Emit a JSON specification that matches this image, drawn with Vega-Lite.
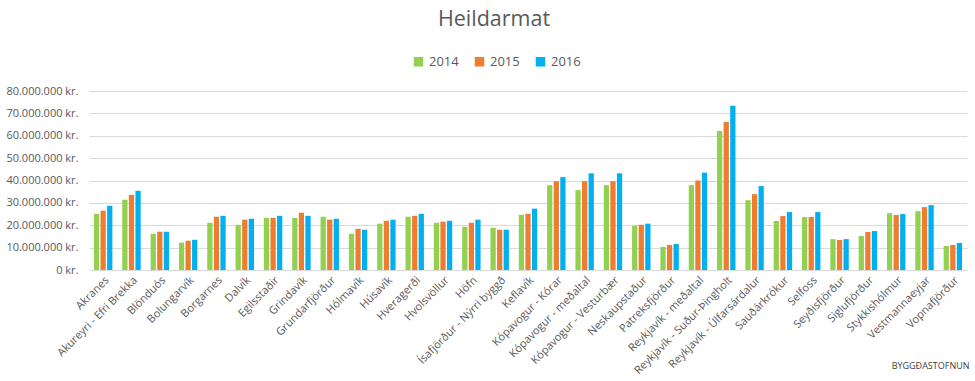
{
  "$schema": "https://vega.github.io/schema/vega-lite/v6.json",
  "width": 878,
  "height": 179,
  "autosize": "none",
  "padding": {"left": 89, "top": 91, "right": 8, "bottom": 111},
  "background": "white",
  "title": {"text": "Heildarmat", "fontSize": 21.5, "font": "Open Sans", "fontWeight": "normal", "color": "#595959", "anchor": "middle", "frame": "group", "dx": -34, "offset": 25},
  "config": {
    "locale": {"number": {"decimal": ",", "thousands": ".", "grouping": [3], "currency": ["", " kr."]}},
    "view": {"stroke": null},
    "font": "Open Sans"
  },
  "data": {"values": [
    {"s": "Akranes", "ar": "2014", "v": 25100000}, {"s": "Akranes", "ar": "2015", "v": 26500000}, {"s": "Akranes", "ar": "2016", "v": 28700000},
    {"s": "Akureyri - Efri Brekka", "ar": "2014", "v": 31400000}, {"s": "Akureyri - Efri Brekka", "ar": "2015", "v": 33600000}, {"s": "Akureyri - Efri Brekka", "ar": "2016", "v": 35400000},
    {"s": "Blönduós", "ar": "2014", "v": 16200000}, {"s": "Blönduós", "ar": "2015", "v": 17100000}, {"s": "Blönduós", "ar": "2016", "v": 17100000},
    {"s": "Bolungarvík", "ar": "2014", "v": 12200000}, {"s": "Bolungarvík", "ar": "2015", "v": 13100000}, {"s": "Bolungarvík", "ar": "2016", "v": 13500000},
    {"s": "Borgarnes", "ar": "2014", "v": 21100000}, {"s": "Borgarnes", "ar": "2015", "v": 23800000}, {"s": "Borgarnes", "ar": "2016", "v": 24200000},
    {"s": "Dalvík", "ar": "2014", "v": 20200000}, {"s": "Dalvík", "ar": "2015", "v": 22500000}, {"s": "Dalvík", "ar": "2016", "v": 22900000},
    {"s": "Egilsstaðir", "ar": "2014", "v": 23300000}, {"s": "Egilsstaðir", "ar": "2015", "v": 23300000}, {"s": "Egilsstaðir", "ar": "2016", "v": 24200000},
    {"s": "Grindavík", "ar": "2014", "v": 23300000}, {"s": "Grindavík", "ar": "2015", "v": 25600000}, {"s": "Grindavík", "ar": "2016", "v": 24200000},
    {"s": "Grundarfjörður", "ar": "2014", "v": 23800000}, {"s": "Grundarfjörður", "ar": "2015", "v": 22500000}, {"s": "Grundarfjörður", "ar": "2016", "v": 22900000},
    {"s": "Hólmavík", "ar": "2014", "v": 16200000}, {"s": "Hólmavík", "ar": "2015", "v": 18400000}, {"s": "Hólmavík", "ar": "2016", "v": 18000000},
    {"s": "Húsavík", "ar": "2014", "v": 20700000}, {"s": "Húsavík", "ar": "2015", "v": 22000000}, {"s": "Húsavík", "ar": "2016", "v": 22500000},
    {"s": "Hveragerði", "ar": "2014", "v": 23800000}, {"s": "Hveragerði", "ar": "2015", "v": 24200000}, {"s": "Hveragerði", "ar": "2016", "v": 25100000},
    {"s": "Hvolsvöllur", "ar": "2014", "v": 21100000}, {"s": "Hvolsvöllur", "ar": "2015", "v": 21600000}, {"s": "Hvolsvöllur", "ar": "2016", "v": 22000000},
    {"s": "Höfn", "ar": "2014", "v": 19300000}, {"s": "Höfn", "ar": "2015", "v": 21100000}, {"s": "Höfn", "ar": "2016", "v": 22500000},
    {"s": "Ísafjörður - Nýrri byggð", "ar": "2014", "v": 18900000}, {"s": "Ísafjörður - Nýrri byggð", "ar": "2015", "v": 18000000}, {"s": "Ísafjörður - Nýrri byggð", "ar": "2016", "v": 18000000},
    {"s": "Keflavík", "ar": "2014", "v": 24700000}, {"s": "Keflavík", "ar": "2015", "v": 25100000}, {"s": "Keflavík", "ar": "2016", "v": 27400000},
    {"s": "Kópavogur - Kórar", "ar": "2014", "v": 37900000}, {"s": "Kópavogur - Kórar", "ar": "2015", "v": 39700000}, {"s": "Kópavogur - Kórar", "ar": "2016", "v": 41500000},
    {"s": "Kópavogur - meðaltal", "ar": "2014", "v": 35700000}, {"s": "Kópavogur - meðaltal", "ar": "2015", "v": 39700000}, {"s": "Kópavogur - meðaltal", "ar": "2016", "v": 43200000},
    {"s": "Kópavogur - Vesturbær", "ar": "2014", "v": 37900000}, {"s": "Kópavogur - Vesturbær", "ar": "2015", "v": 39700000}, {"s": "Kópavogur - Vesturbær", "ar": "2016", "v": 43200000},
    {"s": "Neskaupstaður", "ar": "2014", "v": 19800000}, {"s": "Neskaupstaður", "ar": "2015", "v": 20200000}, {"s": "Neskaupstaður", "ar": "2016", "v": 20700000},
    {"s": "Patreksfjörður", "ar": "2014", "v": 10300000}, {"s": "Patreksfjörður", "ar": "2015", "v": 11200000}, {"s": "Patreksfjörður", "ar": "2016", "v": 11600000},
    {"s": "Reykjavík - meðaltal", "ar": "2014", "v": 37900000}, {"s": "Reykjavík - meðaltal", "ar": "2015", "v": 40000000}, {"s": "Reykjavík - meðaltal", "ar": "2016", "v": 43500000},
    {"s": "Reykjavík - Suður-Þingholt", "ar": "2014", "v": 62100000}, {"s": "Reykjavík - Suður-Þingholt", "ar": "2015", "v": 66100000}, {"s": "Reykjavík - Suður-Þingholt", "ar": "2016", "v": 73400000},
    {"s": "Reykjavík - Úlfarsárdalur", "ar": "2014", "v": 31200000}, {"s": "Reykjavík - Úlfarsárdalur", "ar": "2015", "v": 33900000}, {"s": "Reykjavík - Úlfarsárdalur", "ar": "2016", "v": 37500000},
    {"s": "Sauðárkrókur", "ar": "2014", "v": 21900000}, {"s": "Sauðárkrókur", "ar": "2015", "v": 24100000}, {"s": "Sauðárkrókur", "ar": "2016", "v": 25900000},
    {"s": "Selfoss", "ar": "2014", "v": 23700000}, {"s": "Selfoss", "ar": "2015", "v": 23700000}, {"s": "Selfoss", "ar": "2016", "v": 25900000},
    {"s": "Seyðisfjörður", "ar": "2014", "v": 13800000}, {"s": "Seyðisfjörður", "ar": "2015", "v": 13400000}, {"s": "Seyðisfjörður", "ar": "2016", "v": 13800000},
    {"s": "Siglufjörður", "ar": "2014", "v": 15200000}, {"s": "Siglufjörður", "ar": "2015", "v": 17000000}, {"s": "Siglufjörður", "ar": "2016", "v": 17400000},
    {"s": "Stykkishólmur", "ar": "2014", "v": 25400000}, {"s": "Stykkishólmur", "ar": "2015", "v": 24600000}, {"s": "Stykkishólmur", "ar": "2016", "v": 25000000},
    {"s": "Vestmannaeyjar", "ar": "2014", "v": 26300000}, {"s": "Vestmannaeyjar", "ar": "2015", "v": 28100000}, {"s": "Vestmannaeyjar", "ar": "2016", "v": 29000000},
    {"s": "Vopnafjörður", "ar": "2014", "v": 10700000}, {"s": "Vopnafjörður", "ar": "2015", "v": 11200000}, {"s": "Vopnafjörður", "ar": "2016", "v": 12100000}
  ]},
  "mark": {"type": "bar"},
  "encoding": {
    "x": {
      "field": "s", "type": "nominal", "sort": null,
      "scale": {"paddingInner": 0.35, "paddingOuter": 0.175},
      "axis": {
        "title": "BYGGÐASTOFNUN", "titleAnchor": "end", "titleFontSize": 9, "titleFontWeight": "normal", "titleColor": "#404040", "titleY": 95, "titleX": 880, "titleBaseline": "middle",
        "labelAngle": -45, "labelAlign": "right", "labelBaseline": "top", "labelFontSize": 11, "labelColor": "#595959", "labelPadding": 4,
        "ticks": false, "domainColor": "#D9D9D9", "domainWidth": 1, "labelOverlap": false, "labelLimit": 0
      }
    },
    "xOffset": {"field": "ar", "type": "nominal", "scale": {"paddingInner": 0.2}},
    "y": {
      "field": "v", "type": "quantitative",
      "scale": {"domain": [0, 80000000], "nice": false},
      "axis": {
        "title": null, "values": [0, 10000000, 20000000, 30000000, 40000000, 50000000, 60000000, 70000000, 80000000],
        "format": ",d", "labelExpr": "datum.label + ' kr.'",
        "labelFontSize": 11, "labelColor": "#595959", "labelPadding": 11, "ticks": false, "domain": false,
        "gridColor": "#D9D9D9", "gridWidth": 1
      }
    },
    "color": {
      "field": "ar", "type": "nominal",
      "scale": {"domain": ["2014", "2015", "2016"], "range": ["#92D050", "#ED7D31", "#00B0F0"]},
      "legend": {
        "title": null, "orient": "none", "direction": "horizontal", "legendX": 323, "legendY": -36,
        "symbolType": "square", "symbolSize": 90, "symbolStrokeWidth": 0, "labelFontSize": 13, "labelColor": "#595959", "columnPadding": 14, "labelOffset": 4
      }
    }
  }
}
